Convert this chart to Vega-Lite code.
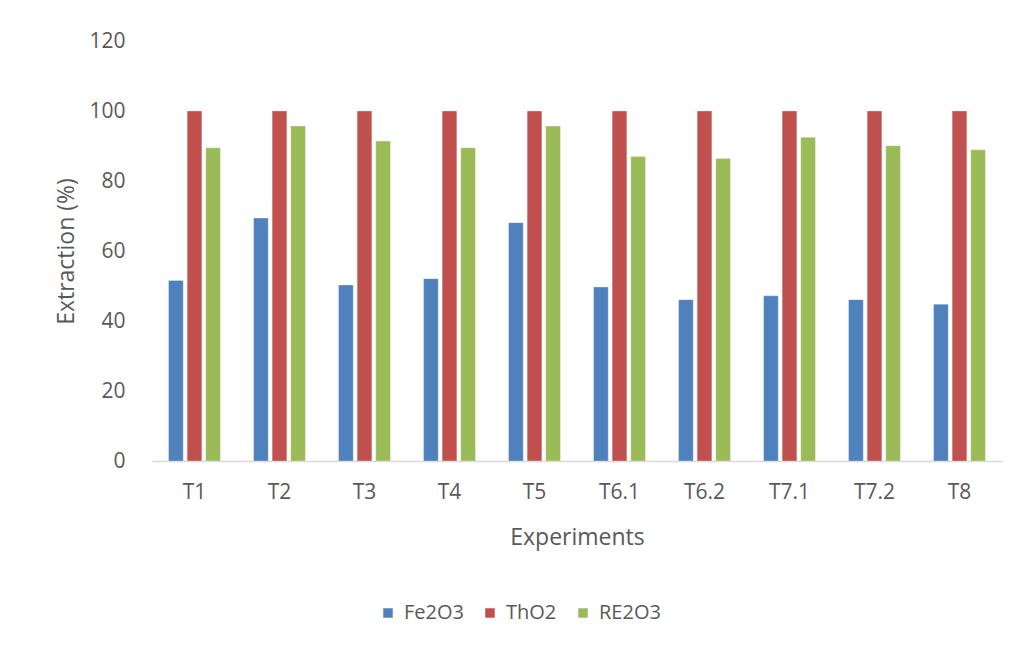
{
  "$schema": "https://vega.github.io/schema/vega-lite/v6.json",
  "width": 850,
  "height": 420,
  "autosize": {"type": "none"},
  "padding": {"left": 152, "top": 41, "right": 22, "bottom": 187},
  "background": "white",
  "config": {
    "font": "Open Sans",
    "view": {"stroke": null},
    "axis": {"labelColor": "#595959", "titleColor": "#595959", "labelFont": "Open Sans", "titleFont": "Open Sans", "titleFontWeight": "normal"},
    "legend": {"labelColor": "#595959", "labelFont": "Open Sans"}
  },
  "data": {
    "values": [
      {"exp": "T1", "oxide": "Fe2O3", "extraction": 51.6},
      {"exp": "T1", "oxide": "ThO2", "extraction": 100},
      {"exp": "T1", "oxide": "RE2O3", "extraction": 89.5},
      {"exp": "T2", "oxide": "Fe2O3", "extraction": 69.4},
      {"exp": "T2", "oxide": "ThO2", "extraction": 100},
      {"exp": "T2", "oxide": "RE2O3", "extraction": 95.7},
      {"exp": "T3", "oxide": "Fe2O3", "extraction": 50.3},
      {"exp": "T3", "oxide": "ThO2", "extraction": 100},
      {"exp": "T3", "oxide": "RE2O3", "extraction": 91.4},
      {"exp": "T4", "oxide": "Fe2O3", "extraction": 52.1},
      {"exp": "T4", "oxide": "ThO2", "extraction": 100},
      {"exp": "T4", "oxide": "RE2O3", "extraction": 89.5},
      {"exp": "T5", "oxide": "Fe2O3", "extraction": 68.1},
      {"exp": "T5", "oxide": "ThO2", "extraction": 100},
      {"exp": "T5", "oxide": "RE2O3", "extraction": 95.7},
      {"exp": "T6.1", "oxide": "Fe2O3", "extraction": 49.7},
      {"exp": "T6.1", "oxide": "ThO2", "extraction": 100},
      {"exp": "T6.1", "oxide": "RE2O3", "extraction": 87.0},
      {"exp": "T6.2", "oxide": "Fe2O3", "extraction": 46.1},
      {"exp": "T6.2", "oxide": "ThO2", "extraction": 100},
      {"exp": "T6.2", "oxide": "RE2O3", "extraction": 86.4},
      {"exp": "T7.1", "oxide": "Fe2O3", "extraction": 47.2},
      {"exp": "T7.1", "oxide": "ThO2", "extraction": 100},
      {"exp": "T7.1", "oxide": "RE2O3", "extraction": 92.5},
      {"exp": "T7.2", "oxide": "Fe2O3", "extraction": 46.1},
      {"exp": "T7.2", "oxide": "ThO2", "extraction": 100},
      {"exp": "T7.2", "oxide": "RE2O3", "extraction": 90.1},
      {"exp": "T8", "oxide": "Fe2O3", "extraction": 44.8},
      {"exp": "T8", "oxide": "ThO2", "extraction": 100},
      {"exp": "T8", "oxide": "RE2O3", "extraction": 88.9}
    ]
  },
  "mark": {"type": "bar", "stroke": "white", "strokeWidth": 0.6, "strokeOpacity": 0.5},
  "encoding": {
    "x": {
      "field": "exp",
      "type": "nominal",
      "sort": null,
      "scale": {"paddingInner": 0.39, "paddingOuter": 0.195},
      "axis": {
        "title": "Experiments",
        "labelAngle": 0,
        "labelFontSize": 21,
        "titleFontSize": 23,
        "ticks": false,
        "domainColor": "#d9d9d9",
        "domainWidth": 1.5,
        "labelPadding": 20,
        "titlePadding": 24
      }
    },
    "xOffset": {
      "field": "oxide",
      "type": "nominal",
      "sort": ["Fe2O3", "ThO2", "RE2O3"],
      "scale": {"paddingInner": 0.21}
    },
    "y": {
      "field": "extraction",
      "type": "quantitative",
      "scale": {"domain": [0, 120], "nice": false},
      "axis": {
        "title": "Extraction (%)",
        "values": [0, 20, 40, 60, 80, 100, 120],
        "labelFontSize": 21,
        "titleFontSize": 23,
        "domain": false,
        "ticks": false,
        "grid": false,
        "labelPadding": 27,
        "titlePadding": 10
      }
    },
    "color": {
      "field": "oxide",
      "type": "nominal",
      "sort": ["Fe2O3", "ThO2", "RE2O3"],
      "scale": {"domain": ["Fe2O3", "ThO2", "RE2O3"], "range": ["#4F81BD", "#C0504D", "#9BBB59"]},
      "legend": {
        "title": null,
        "orient": "none",
        "direction": "horizontal",
        "legendX": 226,
        "legendY": 562,
        "symbolType": "square",
        "symbolSize": 121,
        "labelFontSize": 20,
        "columnPadding": 16,
        "labelOffset": 6
      }
    }
  }
}
